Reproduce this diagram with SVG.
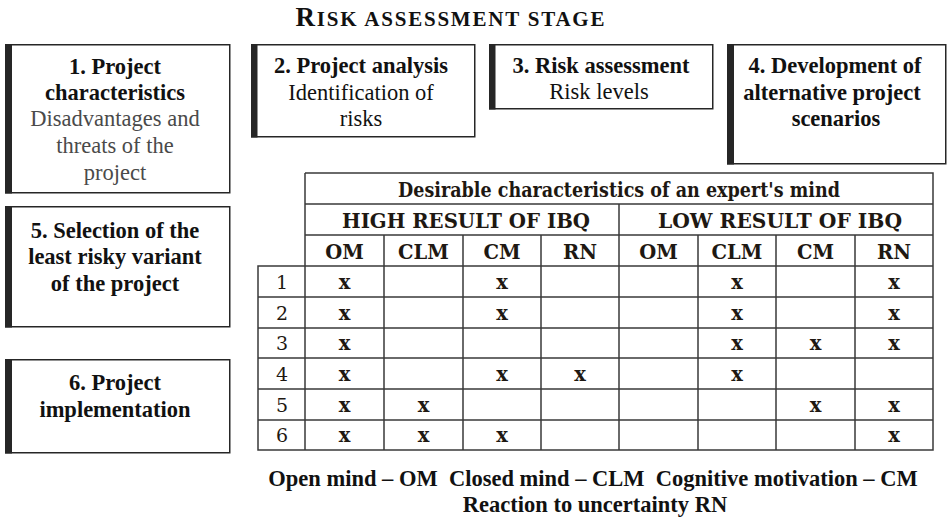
<svg xmlns="http://www.w3.org/2000/svg" width="947" height="518" viewBox="0 0 947 518">
<style>
.box{fill:#fff;stroke:#262626;stroke-width:1.5}
.bar{fill:#262626}
.t{font-family:"Liberation Serif","Times New Roman",serif;font-size:22.5px;text-anchor:middle;fill:#111}
.b{font-weight:bold}
.g{fill:#4a4a4a}
.tl{stroke:#3a3a3a;stroke-width:1.5;fill:none}
.tt{font-family:"DejaVu Serif",serif;font-weight:bold;font-size:19.5px;text-anchor:middle;fill:#1e1812}
.tn{font-family:"DejaVu Serif",serif;font-size:19px;text-anchor:middle;fill:#1e1812}
</style>
<rect width="947" height="518" fill="#fff"/>
<g id="title">
<text class="t b" x="450" y="26" textLength="309" lengthAdjust="spacing"><tspan font-size="27">R</tspan><tspan font-size="21">ISK ASSESSMENT STAGE</tspan></text>
</g>
<g id="node1">
<rect class="box" x="5.75" y="44.75" width="224" height="148"/>
<rect class="bar" x="5" y="44" width="7" height="149.5"/>
<text class="t b" x="115" y="74">1.  Project</text>
<text class="t b" x="115" y="100">characteristics</text>
<text class="t g" x="115" y="126">Disadvantages and</text>
<text class="t g" x="115" y="153">threats of the</text>
<text class="t g" x="115" y="180">project</text>
</g>
<g id="node2">
<rect class="box" x="251.75" y="44.75" width="223" height="92"/>
<rect class="bar" x="251" y="44" width="6.5" height="93.5"/>
<text class="t b" x="361" y="73">2. Project analysis</text>
<text class="t" x="361" y="100" fill="#222">Identification of</text>
<text class="t" x="361" y="126" fill="#222">risks</text>
</g>
<g id="node3">
<rect class="box" x="489.75" y="44.75" width="223" height="64"/>
<rect class="bar" x="489" y="44" width="6.5" height="65.5"/>
<text class="t b" x="601" y="73">3. Risk assessment</text>
<text class="t" x="599" y="99">Risk levels</text>
</g>
<g id="node4">
<rect class="box" x="727.75" y="44.75" width="218" height="119"/>
<rect class="bar" x="727" y="44" width="7" height="120.5"/>
<text class="t b" x="835" y="73">4. Development of</text>
<text class="t b" x="832" y="100">alternative project</text>
<text class="t b" x="836" y="126">scenarios</text>
</g>
<g id="node5">
<rect class="box" x="5.75" y="206.75" width="224" height="120"/>
<rect class="bar" x="5" y="206" width="7" height="121.5"/>
<text class="t b" x="115" y="238">5. Selection of the</text>
<text class="t b" x="115" y="264">least risky variant</text>
<text class="t b" x="115" y="291">of the project</text>
</g>
<g id="node6">
<rect class="box" x="5.75" y="359.75" width="224" height="93"/>
<rect class="bar" x="5" y="359" width="7" height="94.5"/>
<text class="t b" x="115" y="390">6. Project</text>
<text class="t b" x="115" y="417">implementation</text>
</g>
<g id="table">
<path class="tl" d="M305 173H933V450H258V266H305M305 173V450M305 204H933M305 235H933M258 266H933M258 297H933M258 328H933M258 358H933M258 389H933M258 420H933M619 204V450M384 235V450M463 235V450M541 235V450M698 235V450M776 235V450M855 235V450"/>
<text class="tt" x="619" y="197" textLength="442" lengthAdjust="spacingAndGlyphs">Desirable characteristics of an expert's mind</text>
<text class="tt" x="466" y="228" textLength="248" lengthAdjust="spacingAndGlyphs">HIGH RESULT OF IBQ</text>
<text class="tt" x="780" y="228" textLength="244" lengthAdjust="spacingAndGlyphs">LOW RESULT OF IBQ</text>
<g class="tt">
<text x="344.5" y="259">OM</text><text x="423.5" y="259">CLM</text><text x="502" y="259">CM</text><text x="580" y="259">RN</text>
<text x="658.5" y="259">OM</text><text x="737" y="259">CLM</text><text x="815.5" y="259">CM</text><text x="894" y="259">RN</text>
</g>
<g class="tn">
<text x="282" y="289">1</text><text x="282" y="320">2</text><text x="282" y="350">3</text><text x="282" y="381">4</text><text x="282" y="412">5</text><text x="282" y="442">6</text>
</g>
<g class="tt">
<text x="344.5" y="289">x</text><text x="502" y="289">x</text><text x="737" y="289">x</text><text x="894" y="289">x</text>
<text x="344.5" y="320">x</text><text x="502" y="320">x</text><text x="737" y="320">x</text><text x="894" y="320">x</text>
<text x="344.5" y="350">x</text><text x="737" y="350">x</text><text x="815.5" y="350">x</text><text x="894" y="350">x</text>
<text x="344.5" y="381">x</text><text x="502" y="381">x</text><text x="580" y="381">x</text><text x="737" y="381">x</text>
<text x="344.5" y="412">x</text><text x="423.5" y="412">x</text><text x="815.5" y="412">x</text><text x="894" y="412">x</text>
<text x="344.5" y="442">x</text><text x="423.5" y="442">x</text><text x="502" y="442">x</text><text x="894" y="442">x</text>
</g>
</g>
<g id="legend">
<text class="t b" x="593" y="486" xml:space="preserve">Open mind – OM  Closed mind – CLM  Cognitive motivation – CM</text>
<text class="t b" x="595" y="512">Reaction to uncertainty RN</text>
</g>
</svg>
